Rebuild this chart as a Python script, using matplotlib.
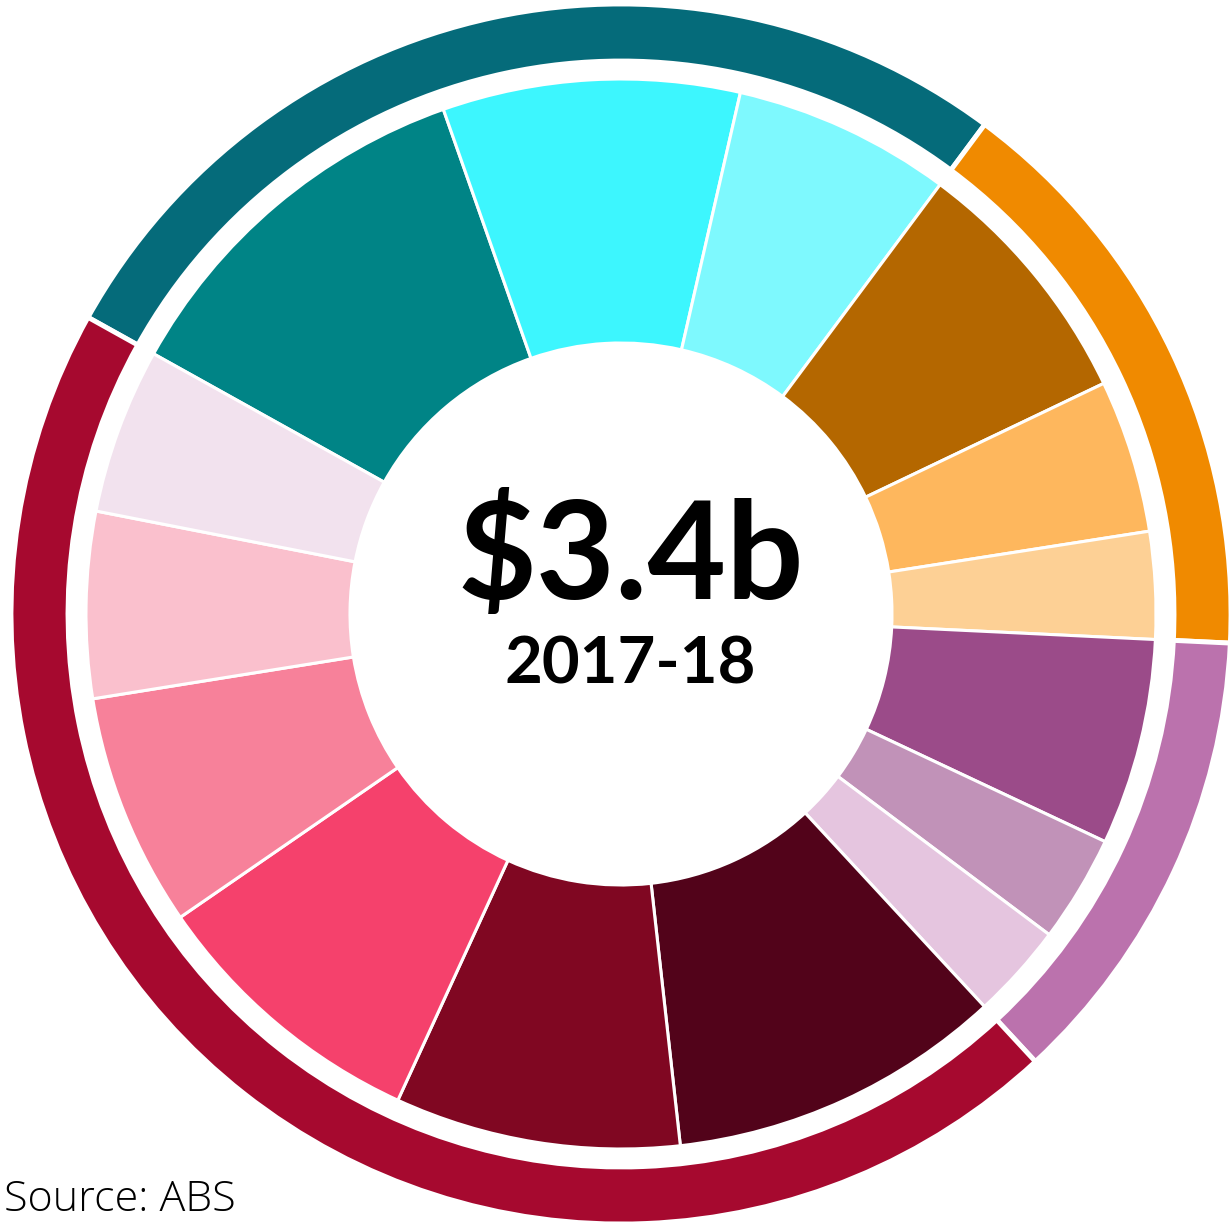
import matplotlib.pyplot as plt

# group totals (outer ring) and categories (inner ring), $m, 2017-18
groups = ["Teal", "Orange", "Purple", "Crimson"]
group_colors = ["#056b7a", "#f08a00", "#bb72ad", "#a6092f"]

cat_values = [392, 305, 224,
              263, 157, 110,
              212, 110, 98,
              344, 293, 291, 240, 191, 170]
cat_colors = ["#008486", "#3df6fe", "#7ef9fe",
              "#b46700", "#feb75d", "#fdd095",
              "#9b4b89", "#c192b8", "#e5c5df",
              "#52031a", "#800722", "#f5416c", "#f7819a", "#fac0cd", "#f2e2ee"]
group_sizes = [3, 3, 3, 6]

group_values = []
i = 0
for n in group_sizes:
    group_values.append(sum(cat_values[i:i + n]))
    i += n

total_label = "$3.4b"
year_label = "2017-18"

W, H = 1230, 1225
fig = plt.figure(figsize=(W / 100, H / 100), dpi=100)
ax = fig.add_axes([0, 0, 1, 1])

cx, cy = 621, H - 614
start = 150.9

# outer ring
ax.pie(group_values, colors=group_colors, radius=610, center=(cx, cy),
       startangle=start, counterclock=False,
       wedgeprops=dict(width=57, edgecolor="white", linewidth=3.5))
# inner ring
ax.pie(cat_values, colors=cat_colors, radius=535, center=(cx, cy),
       startangle=start, counterclock=False,
       wedgeprops=dict(width=264, edgecolor="white", linewidth=2.2))

ax.set_xlim(0, W)
ax.set_ylim(0, H)
ax.set_aspect("equal")
ax.axis("off")

ax.text(cx + 10, H - 558, total_label, ha="center", va="center",
        fontsize=98, fontweight="bold", family="Lato")
ax.text(cx + 9, H - 665, year_label, ha="center", va="center",
        fontsize=47, fontweight="bold", family="Lato")
ax.text(4, H - 1200, "Source: ABS", ha="left", va="center",
        fontsize=31, family="Open Sans", fontweight="light")

fig.savefig("out.png", dpi=100)
